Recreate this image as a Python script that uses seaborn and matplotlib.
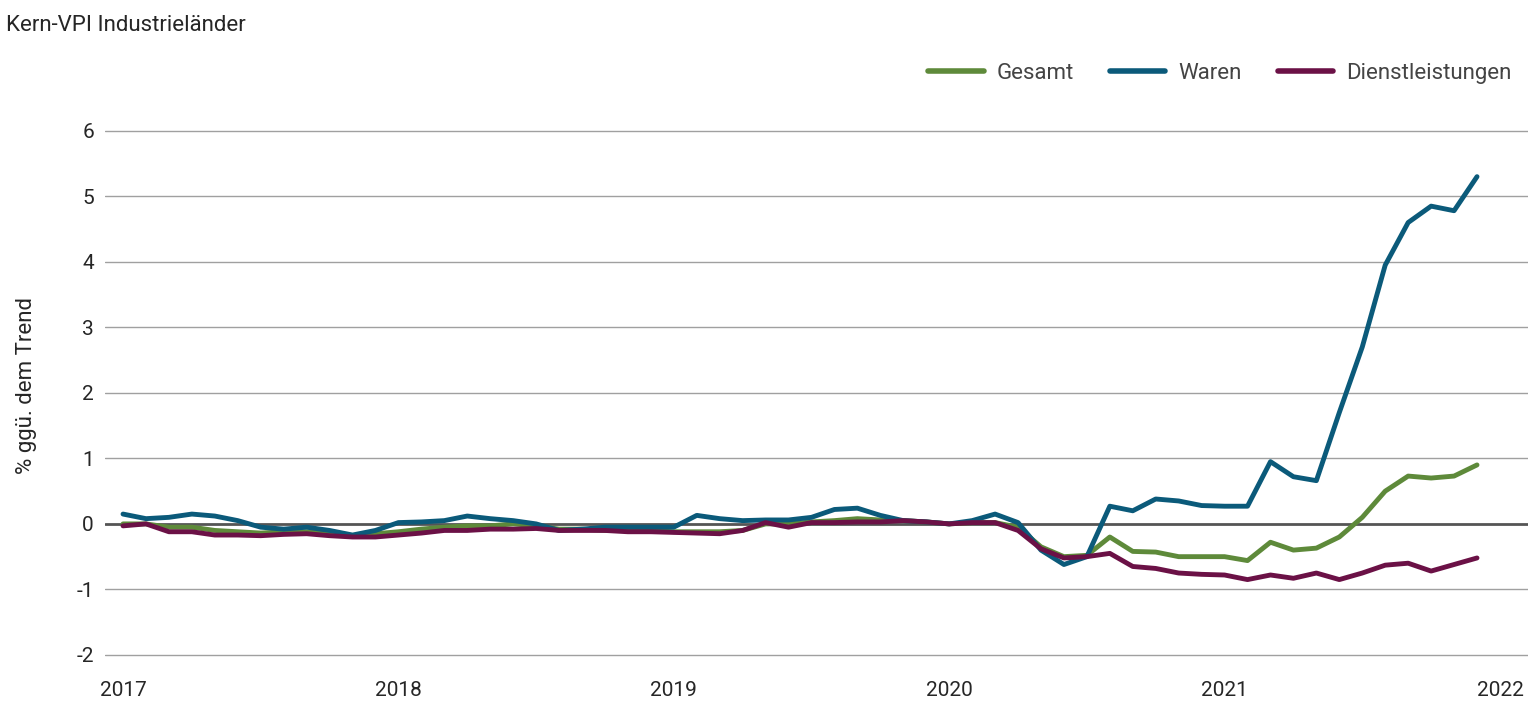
import matplotlib
matplotlib.use("Agg")
import matplotlib.pyplot as plt
import seaborn as sns
import numpy as np
import pandas as pd

gesamt = [0,0,-0.05,-0.05,-0.1,-0.12,-0.14,-0.12,-0.12,-0.15,-0.18,-0.15,
          -0.12,-0.08,-0.05,-0.03,-0.03,0,-0.03,-0.08,-0.08,-0.1,-0.1,-0.1,
          -0.12,-0.12,-0.12,-0.1,0,0,0.03,0.05,0.08,0.06,0.05,0.03,
          0,0.02,0.02,-0.05,-0.35,-0.5,-0.48,-0.2,-0.42,-0.43,-0.5,-0.5,
          -0.5,-0.56,-0.28,-0.4,-0.37,-0.2,0.1,0.5,0.73,0.7,0.73,0.9]
waren = [0.15,0.08,0.1,0.15,0.12,0.05,-0.05,-0.08,-0.05,-0.1,-0.17,-0.1,
         0.02,0.03,0.05,0.12,0.08,0.05,0.0,-0.1,-0.08,-0.05,-0.05,-0.05,
         -0.05,0.13,0.08,0.05,0.06,0.06,0.1,0.22,0.24,0.13,0.05,0.03,
         0,0.05,0.15,0.02,-0.4,-0.62,-0.5,0.27,0.2,0.38,0.35,0.28,
         0.27,0.27,0.95,0.72,0.66,1.7,2.7,3.95,4.6,4.85,4.78,5.3]
dienst = [-0.03,0,-0.12,-0.12,-0.17,-0.17,-0.18,-0.16,-0.15,-0.18,-0.2,-0.2,
          -0.17,-0.14,-0.1,-0.1,-0.08,-0.08,-0.07,-0.1,-0.1,-0.1,-0.12,-0.12,
          -0.13,-0.14,-0.15,-0.1,0.02,-0.05,0.02,0.02,0.03,0.03,0.05,0.03,
          0,0.02,0.02,-0.1,-0.38,-0.52,-0.5,-0.45,-0.65,-0.68,-0.75,-0.77,
          -0.78,-0.85,-0.78,-0.83,-0.75,-0.85,-0.75,-0.63,-0.6,-0.72,-0.62,-0.52]
series = {"Gesamt": gesamt, "Waren": waren, "Dienstleistungen": dienst}
colors = {"Gesamt": "#5E8A3A", "Waren": "#0B5A7A", "Dienstleistungen": "#6B1146"}
years = [2017, 2018, 2019, 2020, 2021, 2022]
yticks = [-2, -1, 0, 1, 2, 3, 4, 5, 6]

sns.set_theme(style="white")
plt.rcParams['font.family'] = ['Roboto', 'DejaVu Sans']

rows = []
for name, vals in series.items():
    for i, v in enumerate(vals):
        rows.append({"x": 2017 + i / 12, "y": v, "Serie": name})
df = pd.DataFrame(rows)

fig = plt.figure(figsize=(15.32, 7.2), dpi=100)
ax = fig.add_axes([105/1532, 50/720, 1423/1532, 570/720])
for yv in yticks:
    ax.axhline(yv, color="#555555" if yv == 0 else "#A0A0A0",
               lw=2 if yv == 0 else 1, zorder=0)
sns.lineplot(data=df, x="x", y="y", hue="Serie", palette=colors, lw=3.5, ax=ax, legend=False)
ax.set_ylim(-2.23, 6.47)
ax.set_xlim(2017 - 18/275, 2022 + 28/275)
ax.set_xticks(years)
ax.set_xticklabels([str(y) for y in years], fontsize=15)
ax.set_yticks(yticks)
ax.set_yticklabels([str(y) for y in yticks], fontsize=15)
ax.tick_params(length=0, pad=8)
ax.set_xlabel("")
ax.set_ylabel("% ggü. dem Trend", fontsize=16, labelpad=28)
for s in ax.spines.values():
    s.set_visible(False)
handles = [plt.Line2D([], [], color=colors[n], lw=4) for n in series]
fig.legend(handles, list(series), loc="upper right", bbox_to_anchor=(1.0, 0.94),
           ncol=3, frameon=False, fontsize=16, handlelength=2.5, handletextpad=0.6,
           columnspacing=1.6, labelcolor="#444444")
fig.text(0.004, 0.965, "Kern-VPI Industrieländer", fontsize=16, va="center")
fig.savefig("out.png", dpi=100)
